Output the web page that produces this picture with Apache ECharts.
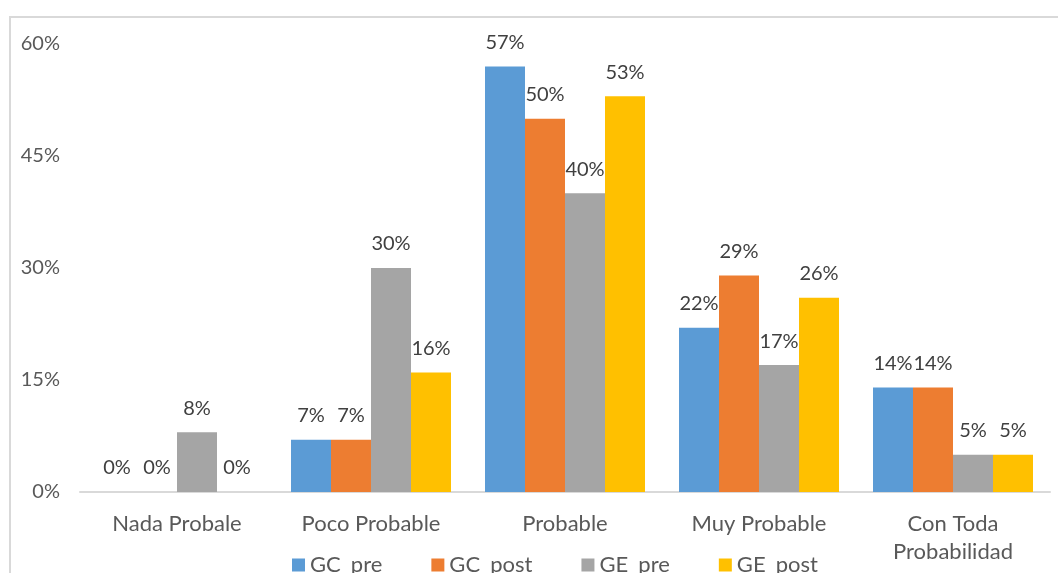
<!DOCTYPE html>
<html>
<head>
<meta charset="utf-8">
<script src="https://cdn.jsdelivr.net/npm/echarts@6/dist/echarts.min.js"></script>
<style>
  html, body { margin: 0; padding: 0; background: #fff; }
  #chart { width: 1058px; height: 573px; }
</style>
</head>
<body>
<div id="chart"></div>
<script>
// Response categories (x axis)
const categories = ['Nada Probale', 'Poco Probable', 'Probable', 'Muy Probable', 'Con Toda\nProbabilidad'];

// Percentages per group
const gcPre  = [0, 7, 57, 22, 14];
const gcPost = [0, 7, 50, 29, 14];
const gePre  = [8, 30, 40, 17, 5];
const gePost = [0, 16, 53, 26, 5];

const seriesNames = ['GC_pre', 'GC_post', 'GE_pre', 'GE_post'];
const seriesColors = ['#5b9bd5', '#ed7d31', '#a5a5a5', '#ffc000'];
const seriesData = [gcPre, gcPost, gePre, gePost];

const FONT = 'Lato';

const chart = echarts.init(document.getElementById('chart'));

chart.setOption({
  animation: false,
  backgroundColor: '#fff',
  textStyle: { fontFamily: FONT },
  graphic: [{
    type: 'rect',
    shape: { x: 10, y: 17, width: 1100, height: 600 },
    style: { fill: 'none', stroke: '#d9d9d9', lineWidth: 2 },
    silent: true,
    z: -1
  }],
  grid: { left: 80, right: 8, top: 44, bottom: 81, containLabel: false },
  legend: {
    top: 554,
    left: 292,
    padding: 0,
    itemWidth: 13,
    itemHeight: 13,
    itemGap: 49,
    icon: 'rect',
    textStyle: { fontFamily: FONT, fontSize: 22, color: '#595959' },
    data: seriesNames
  },
  xAxis: {
    type: 'category',
    data: categories,
    axisLine: { lineStyle: { color: '#d9d9d9', width: 2 } },
    axisTick: { show: false },
    axisLabel: {
      fontFamily: FONT, fontSize: 22, color: '#595959',
      margin: 18, lineHeight: 28, interval: 0
    }
  },
  yAxis: {
    type: 'value',
    min: 0, max: 60, interval: 15,
    axisLine: { show: false },
    axisTick: { show: false },
    splitLine: { show: false },
    axisLabel: {
      fontFamily: FONT, fontSize: 20, color: '#595959', margin: 20,
      formatter: v => v + '%'
    }
  },
  series: seriesData.map((d, i) => ({
    name: seriesNames[i],
    type: 'bar',
    data: d,
    barWidth: 40,
    barGap: '0%',
    itemStyle: { color: seriesColors[i] },
    label: {
      show: true,
      position: 'top',
      distance: 14,
      fontFamily: FONT, fontSize: 20, color: '#404040',
      formatter: p => p.value + '%'
    }
  }))
});
</script>
</body>
</html>
